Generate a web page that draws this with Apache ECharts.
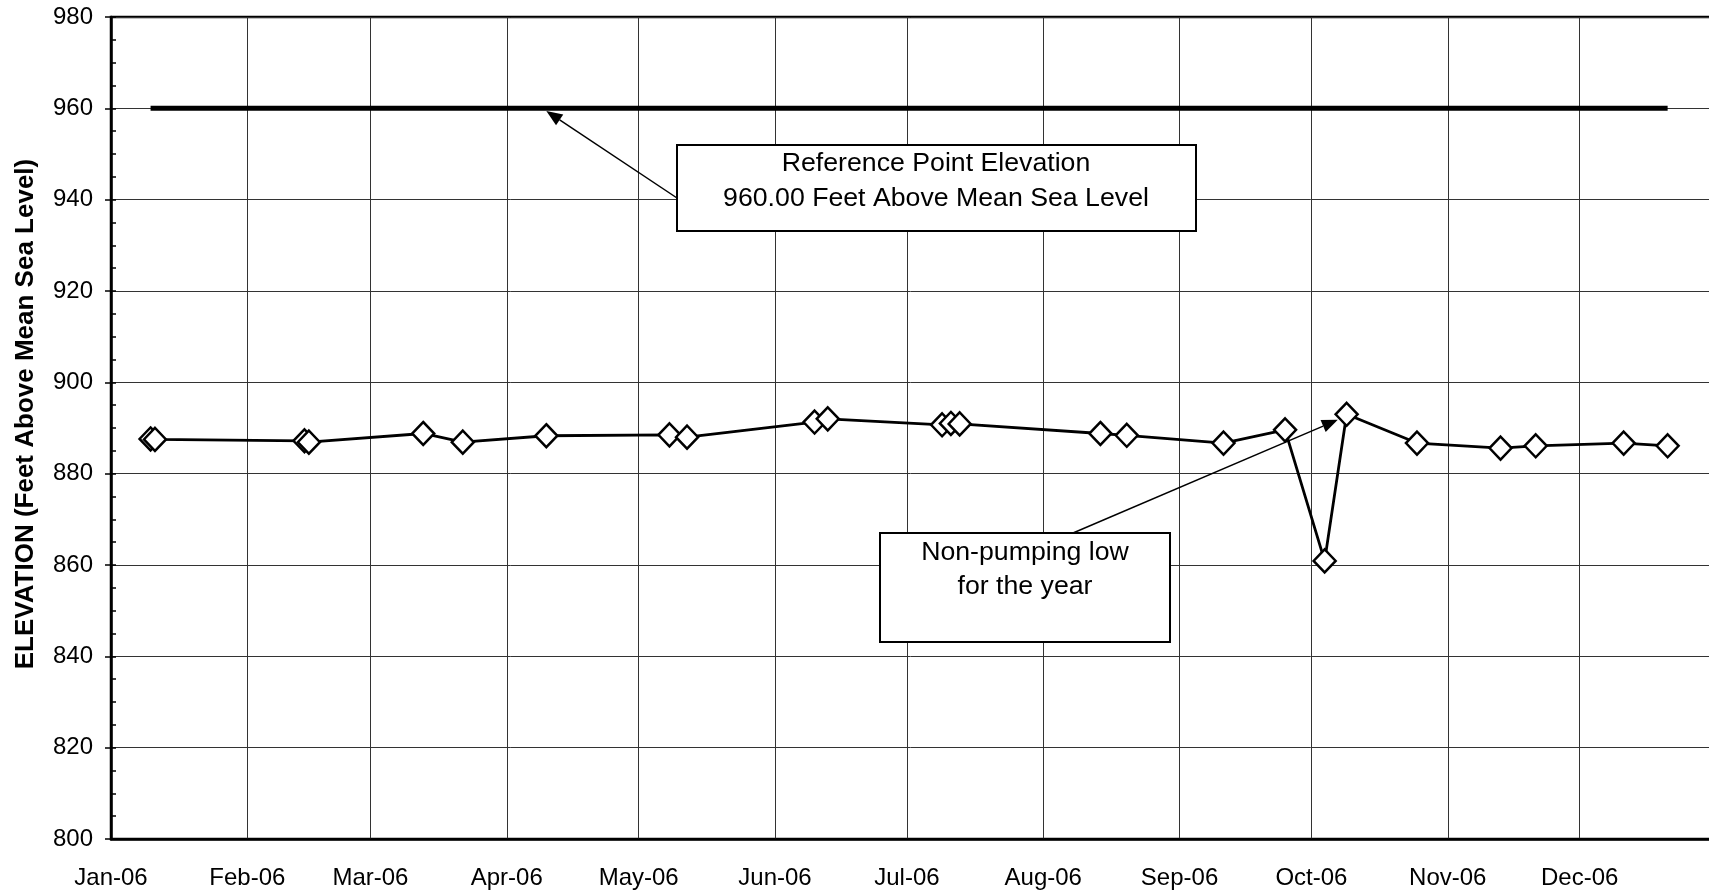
<!DOCTYPE html>
<html><head><meta charset="utf-8">
<script src="https://cdn.jsdelivr.net/npm/echarts@6/dist/echarts.min.js"></script>
<style>html,body{margin:0;padding:0;background:#fff}#c{width:1709px;height:890px}</style>
</head><body><div id="c"></div>
<script>
// ---- data ----
const sampleDates = ['2006-01-10','2006-01-11','2006-02-14','2006-02-15','2006-03-13','2006-03-22',
  '2006-04-10','2006-05-08','2006-05-12','2006-06-10','2006-06-13','2006-07-09','2006-07-11',
  '2006-07-13','2006-08-14','2006-08-20','2006-09-11','2006-09-25','2006-10-04','2006-10-09',
  '2006-10-25','2006-11-13','2006-11-21','2006-12-11','2006-12-21'];
const elevations = [887.6,887.5,887.2,886.9,888.8,886.9,888.3,888.5,888.0,891.3,892.0,890.7,891.0,
  890.9,888.8,888.4,886.7,889.6,860.9,893.0,886.7,885.6,886.1,886.7,886.1];
const refDates = ['2006-01-10','2006-12-21'];
const refElevations = [960, 960];
const monthNames = ['Jan','Feb','Mar','Apr','May','Jun','Jul','Aug','Sep','Oct','Nov','Dec'];
const yTitle = 'ELEVATION (Feet Above Mean Sea Level)';
const refNote = ['Reference Point Elevation','960.00 Feet Above Mean Sea Level'];
const lowNote = ['Non-pumping low','for the year'];
const refArrowTarget = ['2006-04-10', 959.4];
const lowArrowTarget = ['2006-10-07', 891.8];

const FONT = '"Liberation Sans", Arial, sans-serif';
const chart = echarts.init(document.getElementById('c'), null, {renderer:'canvas'});
const option = {
  animation: false,
  backgroundColor: '#fff',
  grid: {left: 111, top: 17, right: -7, bottom: 51, show: true, borderColor: '#000', borderWidth: 2.5,
    outerBoundsMode: 'none', containLabel: false},
  xAxis: {
    type: 'time', min: '2006-01-01', max: '2007-01-01', splitNumber: 12,
    minInterval: 28*86400000, maxInterval: 31*86400000,
    axisLine: {show: true, lineStyle: {color: '#000', width: 2.5}},
    axisTick: {show: false},
    axisLabel: {fontFamily: FONT, fontSize: 24, color: '#000', margin: 27, showMaxLabel: false, hideOverlap: false,
      formatter: function (v) { const d = new Date(v); if (d.getFullYear() !== 2006) return ''; return monthNames[d.getMonth()] + '-' + String(d.getFullYear()).slice(2); }},
    splitLine: {show: true, lineStyle: {color: '#333', width: 1}}
  },
  yAxis: [{
    type: 'value', min: 800, max: 980, interval: 20, position: 'left',
    axisLine: {show: true, lineStyle: {color: '#000', width: 2.5}},
    axisTick: {show: true, inside: false, length: 6, lineStyle: {color: '#000', width: 1.5}},
    axisLabel: {fontFamily: FONT, fontSize: 24, color: '#000', margin: 18},
    splitLine: {show: true, lineStyle: {color: '#333', width: 1}}
  }, {
    type: 'value', min: 800, max: 980, interval: 5, position: 'left',
    axisLine: {show: false},
    axisTick: {show: true, inside: true, length: 5, lineStyle: {color: '#000', width: 1.5}},
    axisLabel: {show: false},
    splitLine: {show: false}
  }],
  series: [{
    type: 'line', name: 'Reference Point', yAxisIndex: 0,
    data: refDates.map((d, i) => [d, refElevations[i]]),
    showSymbol: false, symbol: 'none',
    lineStyle: {color: '#000', width: 5}, z: 3, silent: true
  }, {
    type: 'line', name: 'Elevation', yAxisIndex: 0,
    data: sampleDates.map((d, i) => [d, elevations[i]]),
    symbol: 'diamond', symbolSize: [22, 23], showAllSymbol: true,
    itemStyle: {color: '#fff', borderColor: '#000', borderWidth: 2.5},
    lineStyle: {color: '#000', width: 2.8}, z: 4, silent: true
  }]
};
chart.setOption(option);

function arrow(from, to, head, half) {
  const dx = to[0]-from[0], dy = to[1]-from[1];
  const L = Math.sqrt(dx*dx+dy*dy), ux = dx/L, uy = dy/L;
  const bx = to[0]-ux*head, by = to[1]-uy*head;
  return [
    {type: 'line', z: 100, shape: {x1: from[0], y1: from[1], x2: bx, y2: by}, style: {stroke: '#000', lineWidth: 1.5}},
    {type: 'polygon', z: 100, shape: {points: [[to[0], to[1]], [bx - uy*half, by + ux*half], [bx + uy*half, by - ux*half]]}, style: {fill: '#000'}}
  ];
}
const refTip = chart.convertToPixel({gridIndex: 0}, refArrowTarget);
const lowTip = chart.convertToPixel({gridIndex: 0}, lowArrowTarget);
const txt = (t, x, y, size, weight) => ({type: 'text', z: 101, x: x, y: y,
  style: {text: t, fill: '#000', font: (weight||'normal') + ' ' + size + 'px ' + FONT, textAlign: 'center', textVerticalAlign: 'middle'}});
const graphics = [
  ...arrow([677, 198], [refTip[0], refTip[1]], 16, 6.5),
  ...arrow([1073, 533], [lowTip[0], lowTip[1]], 16, 6.5),
  {type: 'rect', z: 99, shape: {x: 677, y: 145, width: 519, height: 86}, style: {fill: '#fff', stroke: '#000', lineWidth: 2}},
  txt(refNote[0], 936, 164, 26.7), txt(refNote[1], 936, 199, 26.7),
  {type: 'rect', z: 99, shape: {x: 880, y: 533, width: 290, height: 109}, style: {fill: '#fff', stroke: '#000', lineWidth: 2}},
  txt(lowNote[0], 1025, 553, 26.7), txt(lowNote[1], 1025, 587, 26.7),
  Object.assign(txt(yTitle, 26, 414, 26, 'bold'), {rotation: Math.PI/2})
];
chart.setOption({graphic: graphics});
</script></body></html>
